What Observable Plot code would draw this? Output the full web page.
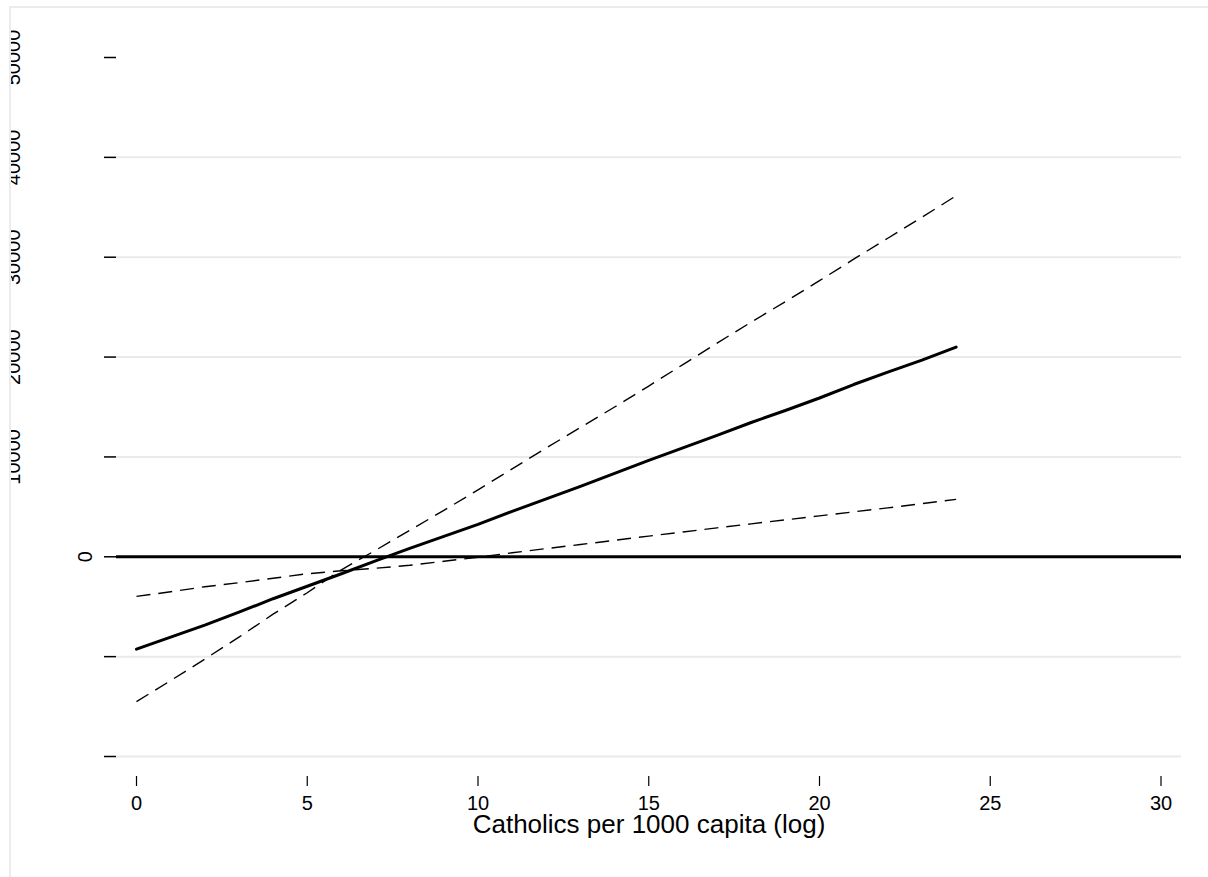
<!DOCTYPE html>
<html>
<head>
<meta charset="utf-8">
<script src="https://cdn.jsdelivr.net/npm/d3@7"></script>
<script src="https://cdn.jsdelivr.net/npm/@observablehq/plot@0.6"></script>
<style>
  html, body { margin: 0; padding: 0; background: white; }
  #frame {
    position: absolute; left: 9px; top: 6px;
    width: 1197px; height: 869px;
    border-left: 2px solid #ececec; border-top: 2px solid #ececec;
    overflow: hidden;
  }
  #frame svg { overflow: hidden !important; display: block; }
</style>
</head>
<body>
<div id="frame"></div>
<script>
// Catholics per 1000 capita (log)
const catholics = [0,1,2,3,4,5,6,7,8,9,10,11,12,13,14,15,16,17,18,19,20,21,22,23,24];
// Marginal effect (solid line)
const effect = [-9250,-8050,-6850,-5550,-4200,-2950,-1700,-400,850,2050,3250,4550,5800,7050,8350,9650,10900,12150,13450,14650,15900,17250,18500,19700,21000];
// Upper confidence bound (dashed)
const upper = [-14500,-12400,-10250,-8050,-5750,-3600,-1300,650,2650,4650,6700,8800,10900,12950,15000,17100,19250,21400,23500,25550,27650,29800,31900,34000,36150];
// Lower confidence bound (dashed)
const lower = [-3970,-3500,-3000,-2600,-2150,-1700,-1400,-1150,-850,-450,-50,400,820,1230,1650,2070,2480,2900,3300,3700,4100,4500,4900,5320,5750];

const xTicks = [0,5,10,15,20,25,30];
const yTicks = [-20000,-10000,0,10000,20000,30000,40000,50000];
const yLabelZero = [0];
const yLabelOthers = [10000,20000,30000,40000,50000];
const gridValues = [-20000,-10000,10000,20000,30000,40000];
const xTitle = "Catholics per 1000 capita (log)";

const table = catholics.map((x, i) => ({x, effect: effect[i], upper: upper[i], lower: lower[i]}));

const chart = Plot.plot({
  width: 1197,
  height: 869,
  marginLeft: 105,
  marginRight: 27,
  marginTop: 49,
  marginBottom: 101,
  x: {domain: [0, 30], range: [125, 1149.5]},
  y: {domain: [-20000, 50000], range: [748, 49]},
  style: {fontFamily: "'Liberation Sans', Arial, sans-serif", fontSize: "20px", color: "black", background: "white", overflow: "hidden"},
  marks: [
    Plot.ruleY(gridValues, {stroke: "#eaeaea", strokeWidth: 2}),
    Plot.ruleY([0], {stroke: "black", strokeWidth: 3}),
    Plot.lineY(table, {x: "x", y: "upper", stroke: "black", strokeWidth: 1.4, strokeDasharray: "14,8", strokeLinecap: "butt"}),
    Plot.lineY(table, {x: "x", y: "lower", stroke: "black", strokeWidth: 1.4, strokeDasharray: "14,8", strokeLinecap: "butt"}),
    Plot.lineY(table, {x: "x", y: "effect", stroke: "black", strokeWidth: 3}),
    Plot.axisX(xTicks, {anchor: "bottom", tickSize: 10, tickPadding: 9, fontSize: 20, label: null, strokeWidth: 1.2}),
    Plot.axisY(yTicks, {anchor: "left", tickSize: 12, tickFormat: () => "", label: null, strokeWidth: 1.5}),
    Plot.text(yLabelZero, {y: d => d, text: d => String(d), frameAnchor: "left", textAnchor: "middle", lineAnchor: "middle", dx: -31, rotate: -90, fontSize: 20}),
    Plot.text(yLabelOthers, {y: d => d, text: d => String(d), frameAnchor: "left", textAnchor: "middle", lineAnchor: "middle", dx: -103, rotate: -90, fontSize: 20}),
    Plot.text([xTitle], {text: d => d, frameAnchor: "bottom", lineAnchor: "top", dy: 38, fontSize: 26})
  ]
});
document.getElementById("frame").appendChild(chart);
</script>
</body>
</html>
